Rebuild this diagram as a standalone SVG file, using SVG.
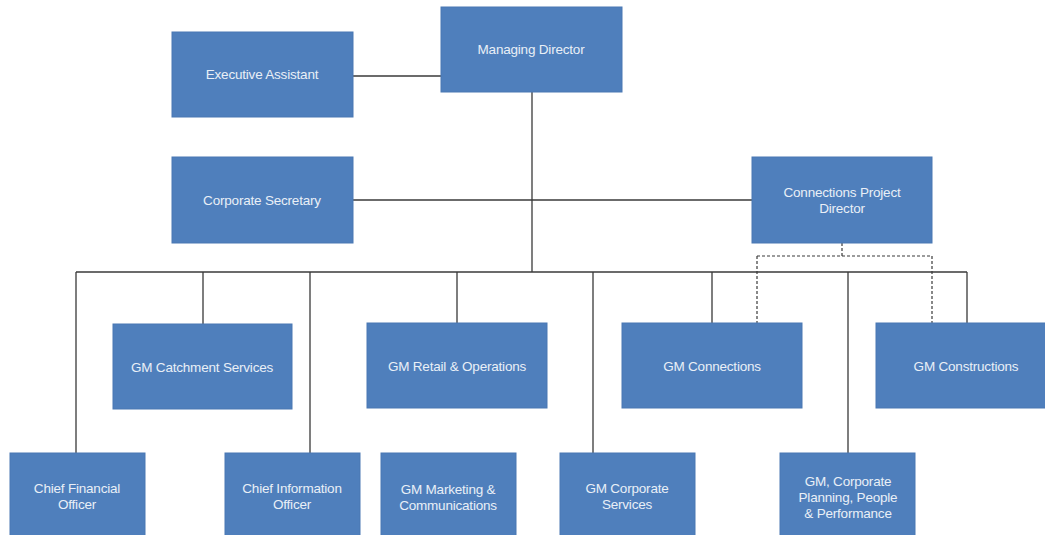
<svg xmlns="http://www.w3.org/2000/svg" width="1045" height="535" viewBox="0 0 1045 535">
<style>
.box{fill:#4f7fbc;stroke:#4a78b3;stroke-width:1}
.t{font-family:"Liberation Sans",Arial,sans-serif;font-size:13.5px;fill:#e9eff7;text-anchor:middle;letter-spacing:-0.2px}
.ln{stroke:#3a3a3a;stroke-width:1.3;fill:none}
.dash{stroke:#3a3a3a;stroke-width:1.2;fill:none;stroke-dasharray:3,2}
</style>
<rect width="1045" height="535" fill="#ffffff"/>
<g id="connectors">
<path class="ln" d="M353 76H441"/>
<path class="ln" d="M532 92V272"/>
<path class="ln" d="M353 200H752"/>
<path class="ln" d="M76 272H967"/>
<path class="ln" d="M76 272V453M203 272V324M310 272V453M457 272V323M593 272V453M712 272V323M848 272V453M967 272V323"/>
<path class="dash" d="M842 243V256M757 256H932M757 256V323M932 256V323"/>
</g>
<g id="managing-director"><rect class="box" x="441" y="7" width="181" height="85"/><text class="t" x="531" y="54">Managing Director</text></g>
<g id="executive-assistant"><rect class="box" x="172" y="32" width="181" height="85"/><text class="t" x="262" y="79">Executive Assistant</text></g>
<g id="corporate-secretary"><rect class="box" x="172" y="157" width="181" height="86"/><text class="t" x="262" y="205">Corporate Secretary</text></g>
<g id="connections-project-director"><rect class="box" x="752" y="157" width="180" height="86"/><text class="t" x="842" y="197">Connections Project</text><text class="t" x="842" y="213">Director</text></g>
<g id="gm-catchment"><rect class="box" x="113" y="324" width="179" height="85"/><text class="t" x="202" y="372">GM  Catchment Services</text></g>
<g id="gm-retail"><rect class="box" x="367" y="323" width="180" height="85"/><text class="t" x="457" y="371">GM  Retail &amp; Operations</text></g>
<g id="gm-connections"><rect class="box" x="622" y="323" width="180" height="85"/><text class="t" x="712" y="371">GM  Connections</text></g>
<g id="gm-constructions"><rect class="box" x="876" y="323" width="180" height="85"/><text class="t" x="966" y="371">GM  Constructions</text></g>
<g id="cfo"><rect class="box" x="10" y="453" width="135" height="90"/><text class="t" x="77" y="493">Chief Financial</text><text class="t" x="77" y="509">Officer</text></g>
<g id="cio"><rect class="box" x="225" y="453" width="135" height="90"/><text class="t" x="292" y="493">Chief Information</text><text class="t" x="292" y="509">Officer</text></g>
<g id="gm-marketing"><rect class="box" x="381" y="453" width="135" height="90"/><text class="t" x="448" y="494">GM  Marketing &amp;</text><text class="t" x="448" y="510">Communications</text></g>
<g id="gm-corporate-services"><rect class="box" x="560" y="453" width="135" height="90"/><text class="t" x="627" y="493">GM  Corporate</text><text class="t" x="627" y="509">Services</text></g>
<g id="gm-corporate-planning"><rect class="box" x="780" y="453" width="135" height="90"/><text class="t" x="848" y="486">GM,  Corporate</text><text class="t" x="848" y="502">Planning, People</text><text class="t" x="848" y="518">&amp; Performance</text></g>
</svg>
